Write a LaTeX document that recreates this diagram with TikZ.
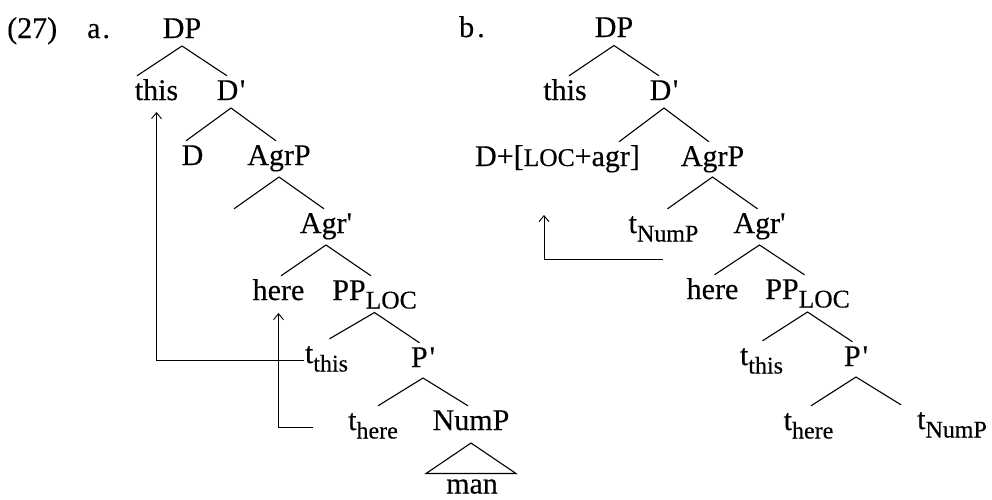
\documentclass[tikz,border=0pt]{standalone}
\usepackage{fontspec}
\setmainfont{Liberation Serif}[FakeBold=0.3]
\usetikzlibrary{arrows.meta}

% sizes: main labels, lower-case subscripts, small capitals
\newcommand\mainsz{\fontsize{30}{30}\selectfont}
\newcommand\subsz{\fontsize{24}{24}\selectfont}
\newcommand\locsz{\fontsize{25.5}{25.5}\selectfont}
% lowered subscript, trace and straight prime
\newcommand\lsub[1]{\raisebox{-8.5pt}{#1}}
\newcommand\trc[1]{t\lsub{\subsz #1}}
\newcommand\loc{{\locsz LOC}}
\newcommand\qt{\textquotesingle}
% a binary branching: drop of the apex below the parent's baseline (#1),
% parent #2, left child #3, right child #4
\newcommand\branches[4]{%
  \draw[branch] ([xshift=-45pt]#2.base |- #3.north) -- ([yshift=-#1pt]#2.base)
                -- ([xshift=45pt]#2.base |- #4.north);}

\begin{document}
\begin{tikzpicture}[x=1pt,y=-1pt,
  lbl/.style={anchor=base, inner xsep=1pt, inner ysep=3.5pt,
              text height=20.5pt, font=\mainsz},
  branch/.style={line width=1.1pt},
  move/.style={line width=0.9pt,
               -{Straight Barb[length=6pt,width=10pt]}},
]
\useasboundingbox (0,0) rectangle (992,499);

% ---------------- (27a) ----------------
\node[lbl,anchor=base west] (ex)    at (6,38)  {(27)};
\node[lbl,anchor=base west] (laba)  at (86,38) {a\hspace{2pt}.};
\node[lbl] (DPa)     at (182,38)    {DP};
\node[lbl] (thisa)   at (156.5,100) {this};
\node[lbl] (Dbara)   at (231,100)   {D\hspace{1.5pt}\qt};
\node[lbl] (Da)      at (192.5,165) {D};
\node[lbl] (AgrPa)   at (279,165)   {AgrP};
\node[lbl] (Agrbara) at (326,233)   {Agr\qt};
\node[lbl] (herea)   at (278.5,300) {here};
\node[lbl] (PPa)     at (374.5,300) {PP\lsub{\loc}};
\node[lbl] (tthisa)  at (326.5,363) {\trc{this}};
\node[lbl] (Pbara)   at (423,367)   {P\hspace{2pt}\qt};
\node[lbl] (therea)  at (373,430)   {\trc{here}};
\node[lbl] (NumPa)   at (471,430)   {NumP};
\node[lbl] (mana)    at (472,493.5) {man};

\branches{8}{DPa}{thisa}{Dbara}
\branches{8}{Dbara}{Da}{AgrPa}
\branches{12}{AgrPa}{Agrbara}{Agrbara}
\branches{12}{Agrbara}{herea}{PPa}
\branches{12.5}{PPa}{tthisa}{Pbara}
\branches{11}{Pbara}{therea}{NumPa}
% triangle over the unanalysed NumP
\coordinate (mantop) at ([yshift=20pt]mana.base);
\draw[branch] ([yshift=-13pt]NumPa.base)
  -- ([xshift=-45pt]NumPa.base |- mantop)
  -- ([xshift=45pt]NumPa.base |- mantop) -- cycle;

% movement paths
\coordinate (herestart) at (313,427);
\draw[move] ([yshift=3pt]tthisa.base west) -| ([yshift=-12pt]thisa.base);
\draw[move] (herestart) -| ([yshift=-13pt]herea.base);

% ---------------- (27b) ----------------
\node[lbl,anchor=base west] (labb) at (458,37) {b\hspace{3pt}.};
\node[lbl] (DPb)     at (614,37)   {DP};
\node[lbl] (thisb)   at (565,100)  {this};
\node[lbl] (Dbarb)   at (664,100)  {D\hspace{1.5pt}\qt};
\node[lbl] (DLb)     at (557.5,166) {D+[\loc+agr]};
\node[lbl] (AgrPb)   at (712.5,166) {AgrP};
\node[lbl] (tNumPb)  at (663.5,233) {\trc{NumP}};
\node[lbl] (Agrbarb) at (759.5,233) {Agr\qt};
\node[lbl] (hereb)   at (712.5,299) {here};
\node[lbl] (PPb)     at (807.5,299) {PP\lsub{\loc}};
\node[lbl] (tthisb)  at (761.5,365) {\trc{this}};
\node[lbl] (Pbarb)   at (856,366)   {P\hspace{2pt}\qt};
\node[lbl] (thereb)  at (808.5,430) {\trc{here}};
\node[lbl] (tNumPc)  at (952,429)   {\trc{NumP}};

\branches{8.5}{DPb}{thisb}{Dbarb}
\branches{8}{Dbarb}{DLb}{AgrPb}
\branches{11}{AgrPb}{tNumPb}{Agrbarb}
\branches{12}{Agrbarb}{hereb}{PPb}
\branches{13}{PPb}{tthisb}{Pbarb}
\branches{11}{Pbarb}{thereb}{tNumPc}

\coordinate (numpstart) at (663,259);
\coordinate (numpland)  at (544,215);
\draw[move] (numpstart) -| (numpland);
\end{tikzpicture}
\end{document}
